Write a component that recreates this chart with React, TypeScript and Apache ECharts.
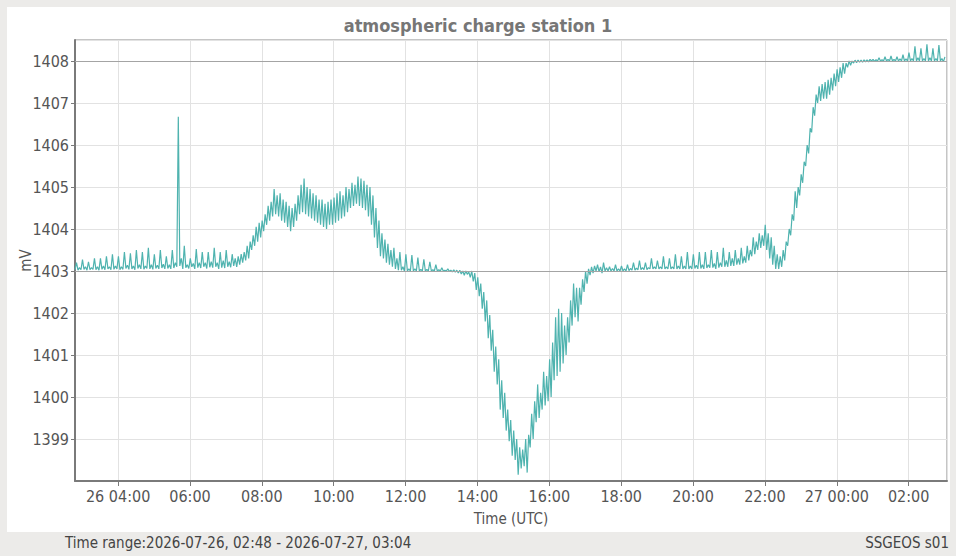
import React, { useEffect, useRef } from "react";
import * as echarts from "echarts";

// Time is measured in hours from 2026-07-26 00:00 UTC.
// One low/high pair every 5 minutes starting 02:48 UTC.
const X_MIN_H = 2.8; // 2026-07-26 02:48
const X_MAX_H = 27 + 4 / 60; // 2026-07-27 03:04
const STEP_H = 5 / 60;

const lowValues = [
  1403.03, 1403.02, 1403.03, 1403.04, 1403.02, 1403.03, 1403.04, 1403.03, 1403.02, 1403.04,
  1403.03, 1403.05, 1403.03, 1403.04, 1403.05, 1403.03, 1403.04, 1403.06, 1403.04, 1403.05,
  1403.03, 1403.06, 1403.05, 1403.04, 1403.06, 1403.05, 1403.04, 1403.06, 1403.05, 1403.07,
  1403.05, 1403.06, 1403.05, 1403.07, 1403.1, 1403.12, 1403.05, 1403.08, 1403.06, 1403.1,
  1403.05, 1403.08, 1403.07, 1403.1, 1403.06, 1403.09, 1403.08, 1403.1, 1403.05, 1403.08,
  1403.07, 1403.1, 1403.09, 1403.12, 1403.1, 1403.15, 1403.2, 1403.25, 1403.3, 1403.5,
  1403.6, 1403.7, 1403.8, 1403.95, 1404.1, 1404.2, 1404.3, 1404.35, 1404.3, 1404.2,
  1404.15, 1404.05, 1403.95, 1404.05, 1404.2, 1404.35, 1404.4, 1404.35, 1404.3, 1404.25,
  1404.2, 1404.15, 1404.1, 1404.05, 1404.0, 1404.1, 1404.1, 1404.15, 1404.2, 1404.25,
  1404.3, 1404.4, 1404.5, 1404.55, 1404.6, 1404.55, 1404.5, 1404.45, 1404.3, 1404.1,
  1403.8, 1403.55, 1403.35, 1403.3, 1403.2, 1403.15, 1403.1, 1403.05, 1403.02, 1403.02,
  1403.0, 1403.0, 1403.0, 1403.0, 1403.0, 1403.0, 1403.0, 1403.0, 1403.0, 1403.0,
  1403.0, 1403.0, 1403.0, 1403.0, 1403.0, 1402.99, 1402.98, 1402.97, 1402.95, 1402.93,
  1402.9, 1402.92, 1402.85, 1402.75, 1402.55, 1402.4, 1402.1, 1401.8, 1401.4, 1401.1,
  1400.6, 1400.3, 1399.7, 1399.5, 1399.2, 1398.95, 1398.6, 1398.5, 1398.15, 1398.3,
  1398.35, 1398.2, 1398.8, 1399.0, 1399.4, 1399.5, 1399.7, 1399.8, 1399.9, 1400.0,
  1400.4, 1400.5, 1400.6, 1400.8, 1401.0, 1401.3, 1401.7, 1401.9, 1401.8, 1402.2,
  1402.5, 1402.7, 1402.9, 1402.95, 1403.0, 1402.98, 1402.95, 1403.0, 1403.0, 1403.0,
  1403.0, 1403.0, 1403.0, 1403.0, 1403.0, 1403.01, 1403.02, 1403.02, 1403.03, 1403.03,
  1403.03, 1403.03, 1403.05, 1403.05, 1403.05, 1403.05, 1403.05, 1403.05, 1403.05, 1403.05,
  1403.05, 1403.05, 1403.05, 1403.05, 1403.05, 1403.05, 1403.05, 1403.06, 1403.05, 1403.06,
  1403.05, 1403.07, 1403.08, 1403.08, 1403.05, 1403.08, 1403.1, 1403.1, 1403.1, 1403.12,
  1403.12, 1403.15, 1403.15, 1403.18, 1403.2, 1403.25, 1403.35, 1403.4, 1403.5, 1403.55,
  1403.6, 1403.5, 1403.3, 1403.15, 1403.05, 1403.05, 1403.1, 1403.25, 1403.6, 1403.85,
  1404.2, 1404.5, 1404.8, 1405.1, 1405.5, 1405.8, 1406.3, 1406.7, 1407.0, 1407.05,
  1407.1, 1407.1, 1407.2, 1407.3, 1407.4, 1407.5, 1407.6, 1407.7, 1407.85, 1407.9,
  1407.95, 1407.96, 1407.97, 1407.97, 1407.98, 1407.98, 1408.0, 1407.99, 1408.0, 1408.0,
  1408.0, 1408.0, 1408.0, 1408.0, 1408.0, 1408.0, 1408.0, 1408.0, 1408.0, 1408.0,
  1408.0, 1408.0, 1408.0, 1408.0, 1408.0, 1408.0, 1408.0, 1408.0, 1408.0, 1408.0,
  1407.98,
];

const highValues = [
  1403.2, 1403.08, 1403.27, 1403.1, 1403.22, 1403.08, 1403.3, 1403.1, 1403.3, 1403.12,
  1403.35, 1403.1, 1403.4, 1403.12, 1403.35, 1403.1, 1403.45, 1403.14, 1403.42, 1403.12,
  1403.5, 1403.15, 1403.45, 1403.12, 1403.55, 1403.15, 1403.4, 1403.14, 1403.5, 1403.16,
  1403.35, 1403.15, 1403.5, 1403.2, 1406.67, 1403.3, 1403.6, 1403.15, 1403.3, 1403.18,
  1403.52, 1403.2, 1403.45, 1403.2, 1403.45, 1403.22, 1403.55, 1403.2, 1403.45, 1403.25,
  1403.5, 1403.22, 1403.4, 1403.3, 1403.35, 1403.4, 1403.45, 1403.6, 1403.7, 1403.85,
  1404.05, 1404.15, 1404.2, 1404.35, 1404.55, 1404.65, 1404.95, 1404.8, 1404.85, 1404.7,
  1404.65, 1404.55, 1404.5, 1404.6, 1404.8, 1405.05, 1405.2, 1405.0, 1404.95, 1404.85,
  1404.8, 1404.7, 1404.7, 1404.6, 1404.65, 1404.7, 1404.75, 1404.85, 1404.9, 1404.8,
  1405.0, 1404.95, 1405.1, 1405.05, 1405.25, 1405.2, 1405.15, 1405.05, 1405.0, 1404.8,
  1404.5, 1404.2, 1403.9, 1403.75, 1403.65, 1403.5, 1403.55, 1403.3, 1403.45, 1403.1,
  1403.4, 1403.05, 1403.38, 1403.05, 1403.32, 1403.04, 1403.28, 1403.04, 1403.22, 1403.03,
  1403.15, 1403.03, 1403.08, 1403.02, 1403.05, 1403.02, 1403.03, 1403.02, 1403.02, 1403.0,
  1403.0, 1402.98, 1403.0, 1402.95, 1402.85, 1402.7, 1402.5, 1402.3, 1401.95, 1401.6,
  1401.2, 1400.9, 1400.4, 1400.1, 1399.7, 1399.45, 1399.2, 1399.0, 1398.8, 1398.75,
  1399.0, 1399.1, 1399.6, 1399.9, 1400.3, 1400.1, 1400.6, 1400.5, 1400.9, 1401.3,
  1401.9, 1402.1, 1402.0, 1401.7, 1401.9, 1402.3, 1402.7, 1402.6, 1402.6, 1402.8,
  1403.0, 1403.05, 1403.1, 1403.12, 1403.15, 1403.1, 1403.2, 1403.08, 1403.1, 1403.06,
  1403.15, 1403.05, 1403.12, 1403.05, 1403.15, 1403.06, 1403.2, 1403.07, 1403.25, 1403.08,
  1403.2, 1403.08, 1403.3, 1403.1, 1403.25, 1403.1, 1403.35, 1403.1, 1403.3, 1403.1,
  1403.4, 1403.12, 1403.35, 1403.12, 1403.45, 1403.12, 1403.4, 1403.14, 1403.45, 1403.15,
  1403.45, 1403.15, 1403.5, 1403.18, 1403.45, 1403.2, 1403.55, 1403.25, 1403.45, 1403.3,
  1403.5, 1403.3, 1403.55, 1403.35, 1403.6, 1403.5, 1403.8, 1403.7, 1403.9, 1403.85,
  1404.1, 1403.9, 1403.8, 1403.6, 1403.4, 1403.35, 1403.5, 1403.7, 1404.0, 1404.35,
  1404.9, 1405.0, 1405.3, 1405.6, 1406.0, 1406.4, 1406.9, 1407.2, 1407.4, 1407.45,
  1407.5, 1407.55, 1407.6, 1407.7, 1407.8, 1407.85, 1407.95, 1407.95, 1408.0, 1408.0,
  1408.02, 1408.02, 1408.02, 1408.03, 1408.03, 1408.04, 1408.04, 1408.03, 1408.08, 1408.03,
  1408.1, 1408.04, 1408.12, 1408.04, 1408.1, 1408.05, 1408.15, 1408.05, 1408.2, 1408.06,
  1408.35, 1408.08, 1408.3, 1408.06, 1408.4, 1408.08, 1408.3, 1408.06, 1408.38, 1408.06,
  1408.1,
];

const referenceLevels = [1403, 1408];

const TITLE = "atmospheric charge station 1";
const X_NAME = "Time (UTC)";
const Y_NAME = "mV";
const FOOTER_LEFT = "Time range:2026-07-26, 02:48 - 2026-07-27, 03:04";
const FOOTER_RIGHT = "SSGEOS s01";
const FIRST_DAY = 26;

const FONT = "'DejaVu Sans Condensed', 'DejaVu Sans', sans-serif";

function pad(n: number) {
  return n < 10 ? "0" + n : "" + n;
}

export default function App() {
  const ref = useRef<HTMLDivElement>(null);

  useEffect(() => {
    if (!ref.current) return;
    const chart = echarts.init(ref.current, undefined, { renderer: "svg" });

    const data: [number, number][] = [];
    for (let i = 0; i < lowValues.length; i++) {
      const t = X_MIN_H + i * STEP_H;
      data.push([t, lowValues[i]]);
      data.push([t + STEP_H / 2, highValues[i]]);
    }

    chart.setOption({
      animation: false,
      backgroundColor: "transparent",
      title: {
        text: TITLE,
        left: "center",
        top: 11,
        textStyle: {
          fontFamily: FONT,
          fontSize: 18,
          fontWeight: "bold",
          color: "#767676",
        },
      },
      grid: {
        left: 75,
        right: 9,
        top: 40,
        bottom: 75,
        show: true,
        borderColor: "#8a8a8a",
        borderWidth: 1,
        backgroundColor: "transparent",
      },
      xAxis: {
        type: "value",
        min: X_MIN_H,
        max: X_MAX_H,
        splitNumber: 12,
        name: X_NAME,
        nameLocation: "middle",
        nameGap: 30,
        nameMoveOverlap: false,
        nameTextStyle: { fontFamily: FONT, fontSize: 15, color: "#555" },
        axisLine: { show: true, onZero: false, lineStyle: { color: "#7a7a7a", width: 2 } },
        axisTick: { show: true, length: 5, lineStyle: { color: "#7a7a7a" } },
        splitLine: { show: true, lineStyle: { color: "#e2e2e2", width: 1 } },
        axisLabel: {
          showMinLabel: false,
          showMaxLabel: false,
          margin: 7,
          fontFamily: FONT,
          fontSize: 16,
          color: "#555",
          formatter: (val: number) => {
            const total = Math.round(val * 60);
            const dayOffset = Math.floor(total / (24 * 60));
            const mins = total - dayOffset * 24 * 60;
            const hh = Math.floor(mins / 60);
            const mm = mins % 60;
            const s = pad(hh) + ":" + pad(mm);
            const isFirst = Math.abs(val - 4) < 1e-6;
            if (hh === 0 || isFirst) return FIRST_DAY + dayOffset + " " + s;
            return s;
          },
        },
      },
      yAxis: {
        type: "value",
        min: 1398,
        max: 1408.5,
        interval: 1,
        name: Y_NAME,
        nameLocation: "middle",
        nameGap: 42,
        nameMoveOverlap: false,
        nameTextStyle: { fontFamily: FONT, fontSize: 15, color: "#555" },
        axisLine: { show: true, lineStyle: { color: "#7a7a7a", width: 2 } },
        axisTick: { show: true, length: 4, lineStyle: { color: "#7a7a7a" } },
        splitLine: { show: true, lineStyle: { color: "#e2e2e2", width: 1 } },
        axisLabel: {
          showMinLabel: false,
          showMaxLabel: false,
          margin: 6,
          fontFamily: FONT,
          fontSize: 16,
          color: "#555",
          formatter: (v: number) => String(Math.round(v)),
        },
      },
      graphic: [
        {
          type: "text",
          x: 65,
          y: 543,
          style: {
            text: FOOTER_LEFT,
            fontFamily: FONT,
            fontSize: 15,
            fill: "#444",
            verticalAlign: "middle",
            align: "left",
          },
        },
        {
          type: "text",
          x: 949,
          y: 543,
          style: {
            text: FOOTER_RIGHT,
            fontFamily: FONT,
            fontSize: 15,
            fill: "#444",
            verticalAlign: "middle",
            align: "right",
          },
        },
      ],
      series: [
        {
          type: "line",
          data,
          showSymbol: false,
          symbol: "none",
          lineStyle: { color: "#4fb3af", width: 1.2 },
          itemStyle: { color: "#4fb3af" },
          markLine: {
            silent: true,
            symbol: "none",
            label: { show: false },
            lineStyle: { color: "#a4a4a4", type: "solid", width: 1 },
            data: referenceLevels.map((v) => ({ yAxis: v })),
          },
        },
      ],
    });

    return () => {
      chart.dispose();
    };
  }, []);

  return (
    <div
      style={{
        position: "fixed",
        left: 0,
        top: 0,
        width: 956,
        height: 556,
        background: "#ecebe9",
      }}
    >
      <div
        style={{
          position: "absolute",
          left: 7,
          top: 7,
          width: 943,
          height: 525,
          background: "#ffffff",
        }}
      />
      <div
        ref={ref}
        style={{ position: "absolute", left: 0, top: 0, width: 956, height: 556 }}
      />
    </div>
  );
}
